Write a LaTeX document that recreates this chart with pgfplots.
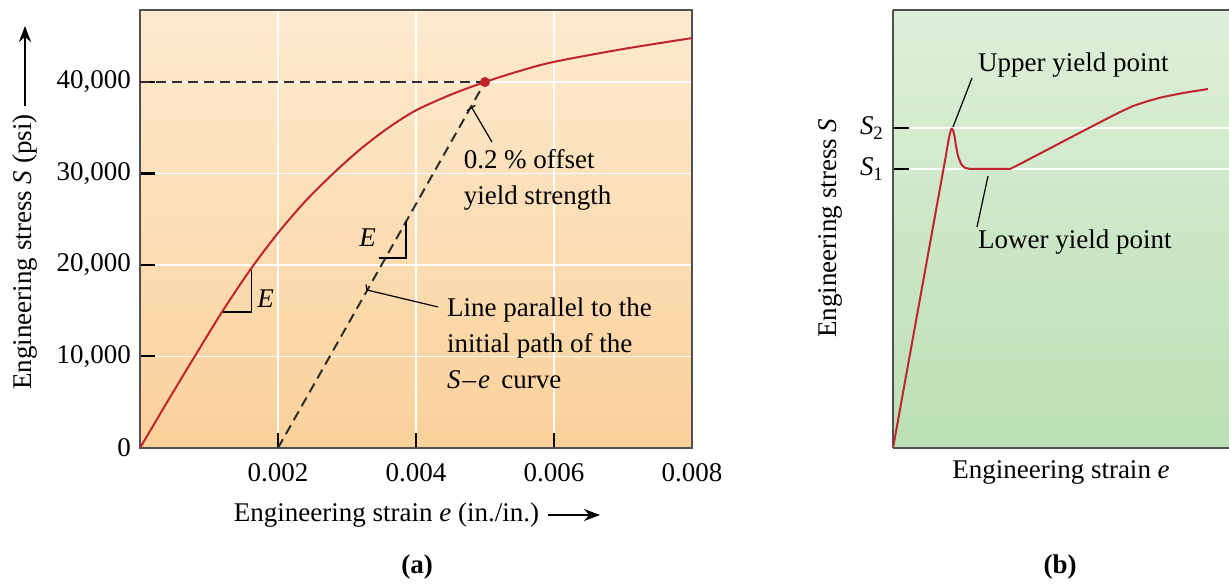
\documentclass[border=0pt]{standalone}
\usepackage{fontspec}
\setmainfont{Liberation Serif}
\usepackage{pgfplots}
\pgfplotsset{compat=1.18}
\usetikzlibrary{arrows.meta}
\definecolor{curvered}{RGB}{192,36,44}
\definecolor{dashgray}{RGB}{45,45,45}
\definecolor{orTop}{RGB}{253,234,207}
\definecolor{orBot}{RGB}{251,209,154}
\definecolor{grTop}{RGB}{221,239,217}
\definecolor{grBot}{RGB}{188,223,181}
\definecolor{frame}{RGB}{80,80,80}
\begin{document}
\begin{tikzpicture}[x=0.5pt,y=0.5pt]
\useasboundingbox (0,0) rectangle (1229,583);
\pgfplotsset{every axis/.append style={font=\fontsize{13.5}{16}\selectfont,
  /pgf/number format/assume math mode=true}}
% ---------------- panel (a) ----------------
\begin{axis}[
  at={(70pt,67.5pt)}, anchor=south west, scale only axis,
  width=276pt, height=219pt,
  xmin=0, xmax=0.008, ymin=0, ymax=47870,
  xtick={0.002,0.004,0.006,0.008}, xticklabels={0.002,0.004,0.006,0.008},
  ytick={0,10000,20000,30000,40000},
  yticklabels={0,{10,000},{20,000},{30,000},{40,000}},
  scaled x ticks=false, scaled y ticks=false,
  xtick pos=bottom, ytick pos=left, tick align=inside,
  major tick length=7.5pt,
  major tick style={black, line width=1pt},
  grid=major, major grid style={white, line width=0.7pt},
  axis line style={draw=frame, line width=0.8pt},
  axis background/.style={top color=orTop, bottom color=orBot},
  xticklabel style={yshift=-4pt}, yticklabel style={xshift=-1pt},
  xlabel={Engineering strain \textit{e} (in./in.)},
  xlabel style={at={(axis description cs:0.4466,-0.153)}, anchor=center},
  ylabel={Engineering stress \textit{S} (psi)},
  ylabel style={at={(axis description cs:-0.2083,0.4475)}, anchor=center},
]
\addplot[dashgray, line width=1pt, dash pattern=on 5pt off 3pt] coordinates {(0,40000) (0.005,40000)};
\addplot[dashgray, line width=1pt, dash pattern=on 5pt off 3pt] coordinates {(0.002,0) (0.005,40000)};
\addplot[curvered, line width=1pt, smooth, tension=0.5] coordinates {
 (0,0) (0.0004,5100) (0.0008,10100) (0.0012,15000) (0.0016,19500)
 (0.002,23500) (0.0024,27000) (0.0028,30000) (0.0032,32700)
 (0.0036,35000) (0.004,36900) (0.0045,38600) (0.005,40000)
 (0.0055,41200) (0.006,42200) (0.007,43600) (0.008,44800)};
\addplot[only marks, mark=*, mark size=2.3pt, curvered] coordinates {(0.005,40000)};
% slope triangles
\draw[black, line width=0.6pt] (axis cs:0.00121,14865) -- (axis cs:0.00162,14865) -- (axis cs:0.00162,19500);
\node[font=\fontsize{13.5}{16}\selectfont\itshape] at (axis cs:0.00182,16300) {E};
\draw[black, line width=0.6pt] (axis cs:0.00346,20770) -- (axis cs:0.003855,20770) -- (axis cs:0.003855,24700);
\node[font=\fontsize{13.5}{16}\selectfont\itshape] at (axis cs:0.00330,23000) {E};
% annotations
\draw[black, line width=0.6pt] (axis cs:0.004812,37160) -- (axis cs:0.005101,33440);
\draw[black, line width=0.6pt] (axis cs:0.00486,37460) -- (axis cs:0.00474,36860);
\node[anchor=west, align=left, font=\fontsize{13.5}{18}\selectfont] at (axis cs:0.00459,29300) {0.2 \% offset\\yield strength};
\draw[black, line width=0.6pt] (axis cs:0.003290,17270) -- (axis cs:0.004320,15410);
\draw[black, line width=0.6pt] (axis cs:0.003275,17870) -- (axis cs:0.003290,17270);
\node[anchor=west, align=left, font=\fontsize{13.5}{18}\selectfont] at (axis cs:0.004350,11500) {Line parallel to the\\initial path of the\\\textit{S}{\kern1pt}–{\kern1pt}\textit{e} \,curve};
\end{axis}
% axis-label arrows of panel (a)
\draw[black, line width=1.1pt, -{Stealth[length=8pt,width=6pt]}] (548,68) -- (600,68);
\draw[black, line width=1.1pt, -{Stealth[length=8pt,width=6pt]}] (25,477) -- (25,557);
% ---------------- panel (b) ----------------
\begin{axis}[
  at={(446.5pt,67.5pt)}, anchor=south west, scale only axis,
  width=168pt, height=219pt,
  xmin=0, xmax=336, ymin=0, ymax=438,
  axis x line=box, axis y line=left,
  y axis line style={-},
  xtick=\empty, ytick={279,320},
  yticklabels={\textit{S}\textsubscript{1},\textit{S}\textsubscript{2}},
  ytick pos=left, tick align=inside, major tick length=8pt,
  major tick style={black, line width=1pt},
  ymajorgrids, major grid style={white, line width=0.7pt},
  axis line style={draw=frame, line width=0.8pt},
  axis background/.style={top color=grTop, bottom color=grBot},
  yticklabel style={xshift=-1pt},
  xlabel={Engineering strain \textit{e}},
  xlabel style={at={(axis description cs:0.5,-0.057)}, anchor=center},
  ylabel={Engineering stress \textit{S}},
  ylabel style={at={(axis description cs:-0.1875,0.502)}, anchor=center},
]
\addplot[curvered, line width=1pt, line join=round] coordinates {
 (0,0) (53,293) (55,305) (57,315) (58.5,319.5) (60,318) (61.5,312)
 (63,302) (65,292) (68,284) (72,280) (78,279) (117,279) (125,283)
 (150,296) (190,317) (225,335) (240,342) (255,347) (270,351) (290,355) (315,359)};
\draw[black, line width=0.6pt] (axis cs:79,370) -- (axis cs:60,321);
\draw[black, line width=0.6pt] (axis cs:95,272) -- (axis cs:84,221);
\node[anchor=west] at (axis cs:78,383) {Upper yield point};
\node[anchor=west] at (axis cs:78,206) {Lower yield point};
\end{axis}
\node[font=\bfseries\fontsize{13.5}{16}\selectfont] at (417,16) {(a)};
\node[font=\bfseries\fontsize{13.5}{16}\selectfont] at (1060,16) {(b)};
\end{tikzpicture}
\end{document}
